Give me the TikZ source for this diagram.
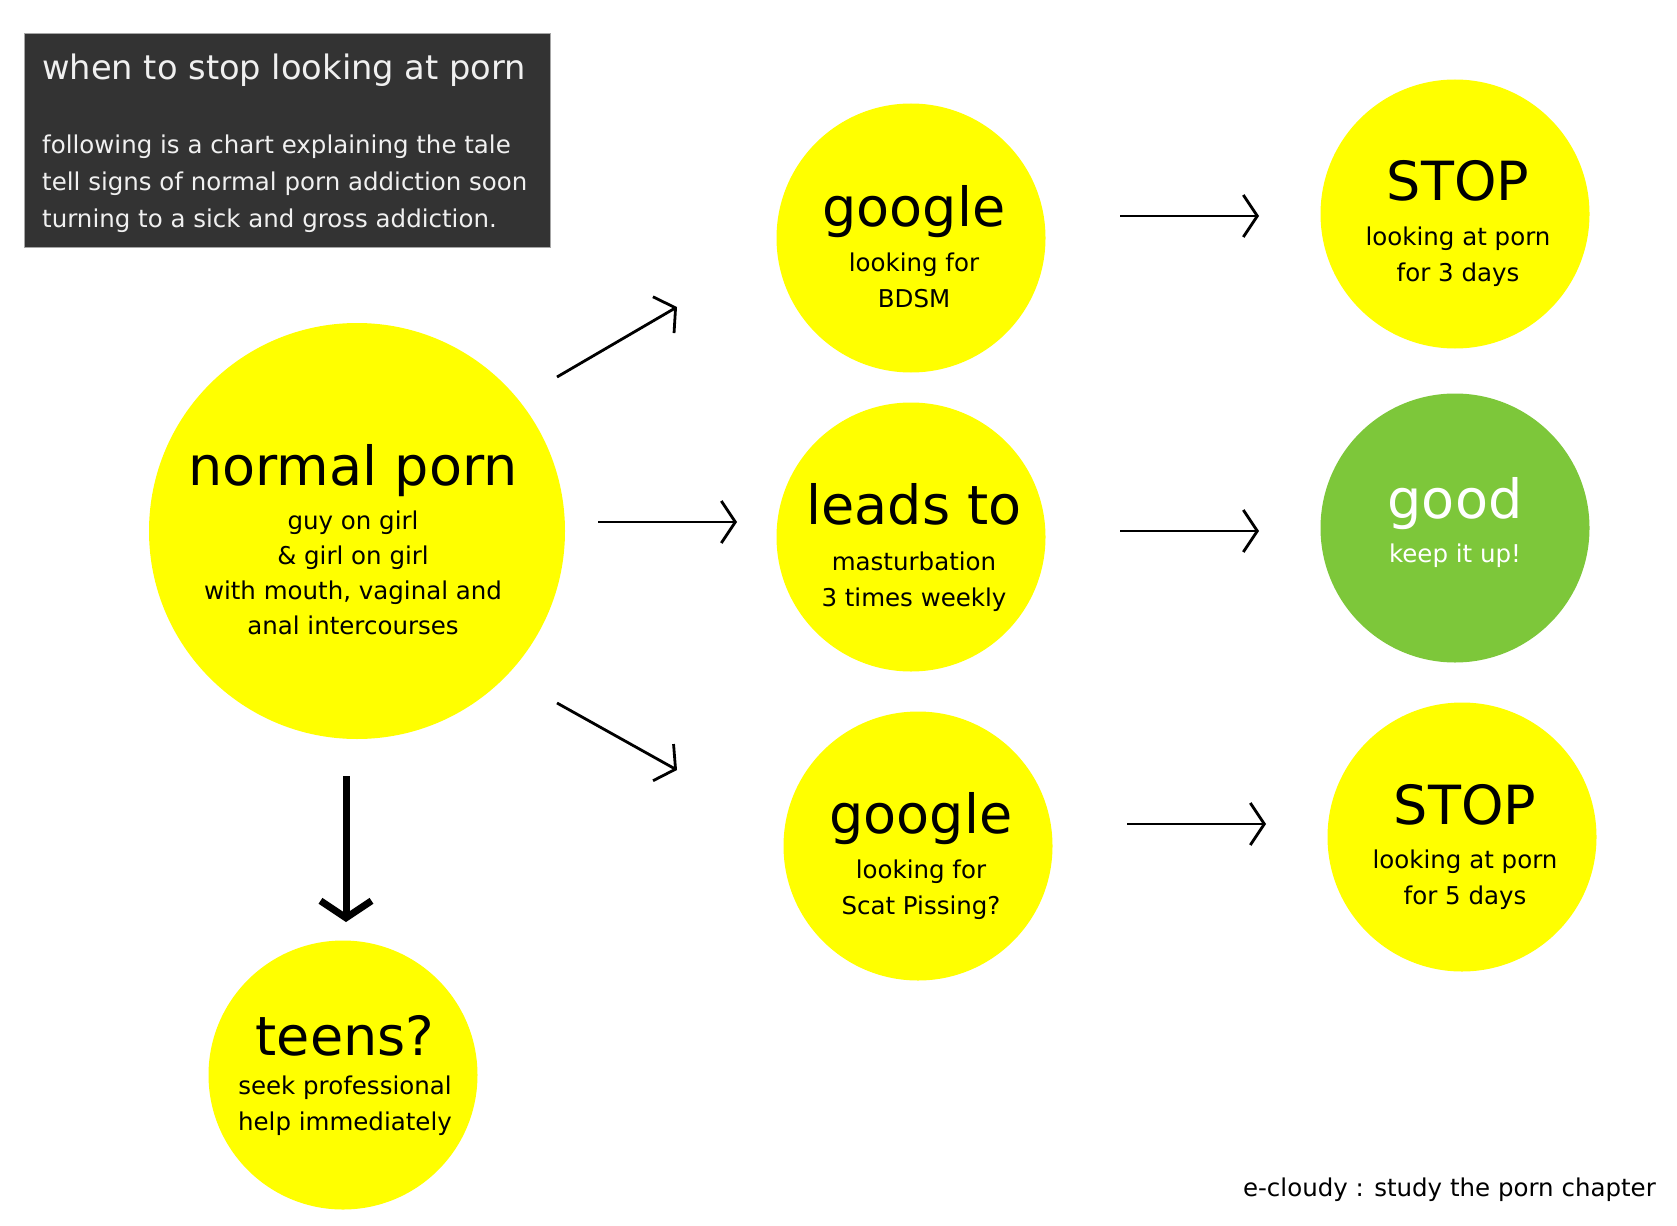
\documentclass[tikz,border=0pt]{standalone}
\usepackage{fontspec}
\setmainfont{DejaVu Sans}
\usetikzlibrary{arrows.meta,positioning}
\definecolor{blobyellow}{HTML}{FFFF00}
\definecolor{blobgreen}{HTML}{7DC73A}
\definecolor{boxgray}{HTML}{333333}
\newcommand\bigtxt{\fontsize{54}{60}\selectfont}
\newcommand\smalltxt{\fontsize{24.5}{36}\selectfont}
\newcommand\titletxt{\fontsize{33.7}{40}\selectfont}

\begin{document}
\begin{tikzpicture}[
    x=1pt, y=-1pt,
    bubble/.style={circle, fill=blobyellow, minimum size=269pt, inner sep=0pt},
    words/.style={align=center, inner sep=0pt, anchor=north, font=\smalltxt},
    arrow/.style={-{Straight Barb[length=14pt,width=42pt]}, line width=2.8pt},
    bigarrow/.style={-{Straight Barb[length=17pt,width=51pt]}, line width=7pt}
]
\useasboundingbox (0,0) rectangle (1677,1225);

% Cadre titre
\node[draw=gray!70, line width=1pt, fill=boxgray, minimum width=526pt, minimum height=214pt, anchor=north west] (intro) at (24,33) {};
\node[font=\titletxt, text=white!94!black, inner sep=0pt, anchor=base west] (title) at (42,80) {when to stop looking at porn};
\node[font=\fontsize{24.5}{37}\selectfont, text=white!94!black, align=left, inner sep=0pt, anchor=north west] (blurb) at (42,134.4)
  {following is a chart explaining the tale\\tell signs of normal porn addiction soon\\turning to a sick and gross addiction.};

% Cercles
\node[bubble, minimum size=416pt] (normal) at (357,531) {};
\node[bubble] (google1) at (911,238) {};
\node[bubble] (leads) at (911,537) {};
\node[bubble] (google2) at (918,846) {};
\node[bubble] (stop1) at (1455,214) {};
\node[bubble, fill=blobgreen] (good) at (1455,528) {};
\node[bubble] (stop2) at (1462,837) {};
\node[bubble] (teens) at (343,1075) {};

% Textes des cercles
\node[words, font=\fontsize{24.5}{35}\selectfont] (normaltxt) at ([shift={(-4,-87)}]normal.center) {{\bigtxt normal porn}\\[9pt]guy on girl\\\& girl on girl\\with mouth, vaginal and\\anal intercourses};
\node[words] (google1txt) at ([shift={(3,-53)}]google1.center) {{\bigtxt google}\\[9pt]looking for\\BDSM};
\node[words] (leadstxt) at ([shift={(3,-54)}]leads.center) {{\bigtxt leads to}\\[10pt]masturbation\\3 times weekly};
\node[words] (google2txt) at ([shift={(3,-54)}]google2.center) {{\bigtxt google}\\[9pt]looking for\\Scat Pissing?};
\node[words] (stop1txt) at ([shift={(3,-54)}]stop1.center) {{\bigtxt STOP}\\[9pt]looking at porn\\for 3 days};
\node[words, text=white] (goodtxt) at ([shift={(0,-51)}]good.center) {{\bigtxt good}\\[8pt]keep it up!};
\node[words] (stop2txt) at ([shift={(3,-53)}]stop2.center) {{\bigtxt STOP}\\[8pt]looking at porn\\for 5 days};
\node[words] (teenstxt) at ([shift={(2,-60)}]teens.center) {{\bigtxt teens?}\\[3pt]seek professional\\help immediately};

% Fleches
\draw[arrow] ([shift={(200,-154)}]normal.center) -- ([shift={(-234,69)}]google1.center);
\draw[arrow] ([shift={(241,-9)}]normal.center) -- ([shift={(-174,-15)}]leads.center);
\draw[arrow] ([shift={(200,172)}]normal.center) -- ([shift={(-241,-76)}]google2.center);
\draw[bigarrow] ([shift={(-11,245)}]normal.center) -- ([shift={(3,-153)}]teens.center);
\draw[arrow] ([shift={(209,-22)}]google1.center) -- ([shift={(-196,2)}]stop1.center);
\draw[arrow] ([shift={(209,-6)}]leads.center) -- ([shift={(-196,3)}]good.center);
\draw[arrow] ([shift={(209,-22)}]google2.center) -- ([shift={(-196,-13)}]stop2.center);

% Signature
\node[font=\smalltxt, inner sep=0pt, anchor=base east] (credit) at (1656,1196) {e-cloudy : study the porn chapter};

\end{tikzpicture}
\end{document}
